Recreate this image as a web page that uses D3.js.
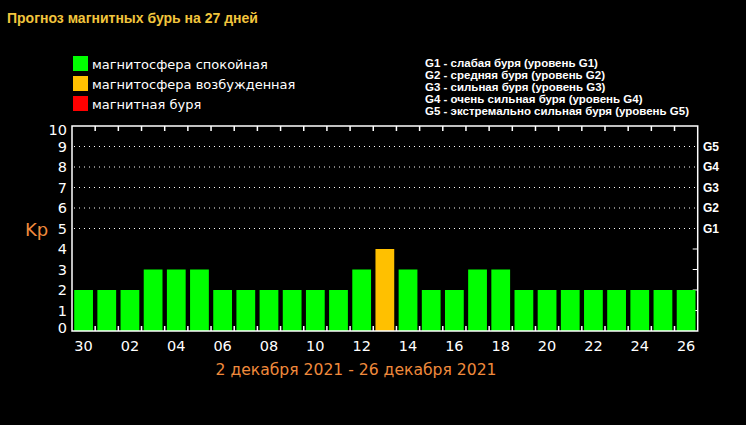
<!DOCTYPE html>
<html lang="ru">
<head>
<meta charset="UTF-8">
<title>Прогноз магнитных бурь на 27 дней</title>
<script src="https://d3js.org/d3.v7.min.js"></script>
<style>
  body { margin: 0; background: #000; }
  svg { display: block; }
</style>
</head>
<body>
<svg width="746" height="425"></svg>
<script>
// данные
const days = ["30","01","02","03","04","05","06","07","08","09","10","11","12","13",
              "14","15","16","17","18","19","20","21","22","23","24","25","26"];
const kp = [2,2,2,3,3,3,2,2,2,2,2,2,3,4,3,2,2,3,3,2,2,2,2,2,2,2,2];
const yTicks = [0,1,2,3,4,5,6,7,8,9,10];
const gLevels = ["G1","G2","G3","G4","G5"];  // Kp 5..9
const legendItems = ["магнитосфера спокойная", "магнитосфера возбужденная", "магнитная буря"];
const gNotes = [
  "G1 - слабая буря (уровень G1)",
  "G2 - средняя буря (уровень G2)",
  "G3 - сильная буря (уровень G3)",
  "G4 - очень сильная буря (уровень G4)",
  "G5 - экстремально сильная буря (уровень G5)"
];
const title = "Прогноз магнитных бурь на 27 дней";
const period = "2 декабря 2021 - 26 декабря 2021";

const green = "#00ff00", orange = "#ffc000", red = "#ff0000";
const colorOf = v => v >= 5 ? red : (v >= 4 ? orange : green);

const svg = d3.select("svg");
svg.append("rect").attr("width", 746).attr("height", 425).attr("fill", "#000");

const pl = 72, pr = 697.7, pt = 126, pb = 331;

const x = d3.scaleBand().domain(days).range([pl, pr]).paddingInner(0.19).paddingOuter(0.095);
const xb = d3.scaleBand().domain(days).range([pl, pr]);
const y = d3.scaleLinear().domain([0, 10]).range([pb, pt]);

// заголовок
svg.append("text").attr("x", 7).attr("y", 23)
  .attr("font-family", "Liberation Sans, Arial, sans-serif").attr("font-weight", "bold")
  .attr("font-size", 14).attr("fill", "#f2c53d").text(title);

// легенда
const lg = svg.append("g");
legendItems.forEach((t, i) => {
  lg.append("rect").attr("x", 73).attr("y", 56 + i * 20).attr("width", 15).attr("height", 15)
    .attr("fill", [green, orange, red][i]);
  lg.append("text").attr("x", 92).attr("y", 68.5 + i * 20)
    .attr("font-family", "DejaVu Sans, Verdana, sans-serif").attr("font-size", 13)
    .attr("fill", "#fff").text(t);
});

gNotes.forEach((t, i) => {
  svg.append("text").attr("x", 425).attr("y", 66.5 + i * 12)
    .attr("font-family", "Liberation Sans, Arial, sans-serif").attr("font-weight", "bold")
    .attr("font-size", 11.5).attr("fill", "#fff").text(t);
});

// сетка
svg.append("g").selectAll("line").data(yTicks.filter(d => d >= 5 && d <= 9)).join("line")
  .attr("x1", pl + 2).attr("x2", pr).attr("y1", d => y(d)).attr("y2", d => y(d))
  .attr("stroke", "#fff").attr("stroke-dasharray", "1,4").attr("stroke-width", 1);

// короткие риски справа для 1..4
svg.append("g").selectAll("line").data(yTicks.filter(d => d >= 1 && d <= 4)).join("line")
  .attr("x1", pr - 5).attr("x2", pr).attr("y1", d => y(d)).attr("y2", d => y(d))
  .attr("stroke", "#fff");

// столбцы
svg.append("g").selectAll("rect").data(kp).join("rect")
  .attr("x", (d, i) => x(days[i]))
  .attr("width", x.bandwidth())
  .attr("y", d => y(d))
  .attr("height", d => y(0) - y(d))
  .attr("fill", d => colorOf(d));

// рамка
svg.append("rect").attr("x", pl).attr("y", pt).attr("width", pr - pl).attr("height", pb - pt)
  .attr("fill", "none").attr("stroke", "#fff").attr("stroke-width", 1.5);

// риски по дням сверху и снизу
const bounds = days.slice(1).map(d => xb(d));
svg.append("g").selectAll("line").data(bounds).join("line")
  .attr("x1", d => d).attr("x2", d => d).attr("y1", pt).attr("y2", pt + 5)
  .attr("stroke", "#fff").attr("stroke-width", 1.5);
svg.append("g").selectAll("line").data(bounds).join("line")
  .attr("x1", d => d).attr("x2", d => d).attr("y1", pb).attr("y2", pb - 5)
  .attr("stroke", "#fff").attr("stroke-width", 1.5);

// подписи оси Y
svg.append("g").selectAll("text").data(yTicks).join("text")
  .attr("x", 67).attr("y", d => Math.min(327.5, Math.max(130, y(d))))
  .attr("text-anchor", "end").attr("dominant-baseline", "central")
  .attr("font-family", "DejaVu Sans, Verdana, sans-serif").attr("font-size", 14.5)
  .attr("fill", "#fff").text(d => d);

// подписи оси X
svg.append("g").selectAll("text").data(days.filter((d, i) => i % 2 === 0)).join("text")
  .attr("x", d => xb(d) + xb.bandwidth() / 2).attr("y", 351)
  .attr("text-anchor", "middle")
  .attr("font-family", "DejaVu Sans, Verdana, sans-serif").attr("font-size", 14.5)
  .attr("fill", "#fff").text(d => d);

// G уровни справа
svg.append("g").selectAll("text").data(gLevels).join("text")
  .attr("x", 703).attr("y", (d, i) => y(5 + i))
  .attr("dominant-baseline", "central")
  .attr("font-family", "Liberation Sans, Arial, sans-serif").attr("font-weight", "bold")
  .attr("font-size", 12).attr("fill", "#fff").text(d => d);

// Kp
svg.append("text").attr("x", 25).attr("y", 229).attr("dominant-baseline", "central")
  .attr("font-family", "DejaVu Sans, Verdana, sans-serif").attr("font-size", 18)
  .attr("fill", "#f08a3c").text("Kp");

// период
svg.append("text").attr("x", 356).attr("y", 375).attr("text-anchor", "middle")
  .attr("font-family", "DejaVu Sans, Verdana, sans-serif").attr("font-size", 15.6)
  .attr("fill", "#f08a3c").text(period);
</script>
</body>
</html>
